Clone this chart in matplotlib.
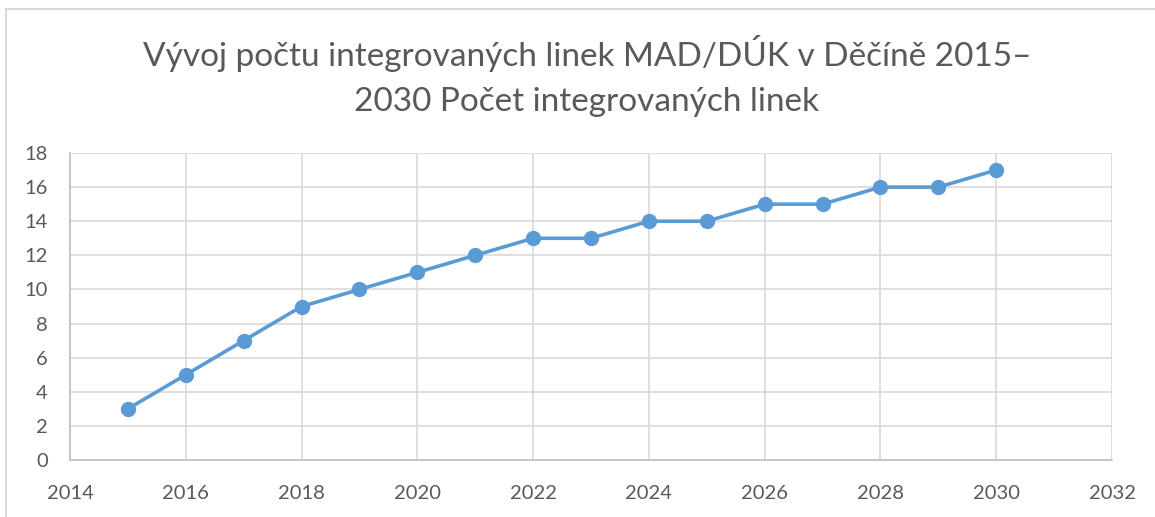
import matplotlib.pyplot as plt
from matplotlib.patches import Rectangle

# data
years = [2015, 2016, 2017, 2018, 2019, 2020, 2021, 2022,
         2023, 2024, 2025, 2026, 2027, 2028, 2029, 2030]
lines_count = [3, 5, 7, 9, 10, 11, 12, 13, 13, 14, 14, 15, 15, 16, 16, 17]
x_ticks = [2014, 2016, 2018, 2020, 2022, 2024, 2026, 2028, 2030, 2032]
y_ticks = [0, 2, 4, 6, 8, 10, 12, 14, 16, 18]
title = "Vývoj počtu integrovaných linek MAD/DÚK v Děčíně 2015–\n2030 Počet integrovaných linek"

plt.rcParams['font.family'] = ['Lato', 'DejaVu Sans']

W, H = 1155, 517
fig = plt.figure(figsize=(W / 100, H / 100), dpi=100)

# chart area border (only left/top visible in the crop)
fig.patches.append(Rectangle((6 / W, -0.1), 1.2, 1 - 8.5 / H + 0.1,
                             transform=fig.transFigure, fill=False,
                             edgecolor='#d9d9d9', linewidth=1.5))

ax = fig.add_axes([70 / W, (H - 460) / H, (1112 - 70) / W, (460 - 153) / H])

ax.plot(years, lines_count, color='#5b9bd5', linewidth=2.6,
        marker='o', markersize=10, markerfacecolor='#5b9bd5',
        markeredgecolor='#5b9bd5', zorder=3)

ax.set_xlim(2014, 2032)
ax.set_ylim(0, 18)
ax.set_xticks(x_ticks)
ax.set_yticks(y_ticks)
ax.grid(True, color='#d9d9d9', linewidth=1.2)
ax.set_axisbelow(True)

for side in ['top', 'right']:
    ax.spines[side].set_visible(False)
for side in ['left', 'bottom']:
    ax.spines[side].set_color('#bfbfbf')
    ax.spines[side].set_linewidth(1.2)

ax.tick_params(length=0, labelsize=14.5, labelcolor='#595959')
ax.tick_params(axis='x', pad=18)
ax.tick_params(axis='y', pad=16)

fig.text(587 / W, 1 - 76 / H, title, ha='center', va='center',
         fontsize=24, color='#595959', linespacing=1.65)

fig.savefig('out.png', dpi=100)
